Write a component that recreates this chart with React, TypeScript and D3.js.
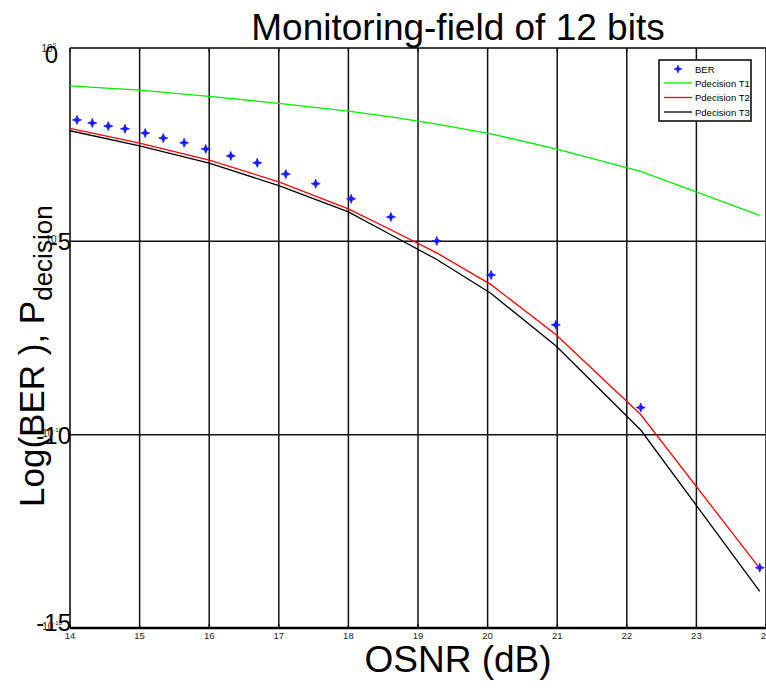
import React from "react";
import * as d3 from "d3";

const berOsnr = [14.1, 14.32, 14.55, 14.79, 15.08, 15.34, 15.64, 15.95, 16.31, 16.69, 17.1, 17.53, 18.04, 18.61, 19.27, 20.05, 20.98, 22.2, 23.91];
const berLog = [-1.86, -1.94, -2.02, -2.09, -2.2, -2.33, -2.45, -2.61, -2.79, -2.97, -3.26, -3.51, -3.9, -4.37, -4.99, -5.87, -7.16, -9.3, -13.44];

const lineOsnr = [14, 15, 16, 17, 18, 18.61, 19.27, 20.05, 20.98, 22.2, 23.91];
const pT1 = [-0.98, -1.09, -1.25, -1.43, -1.63, -1.78, -1.97, -2.22, -2.61, -3.19, -4.33];
const pT2 = [-2.08, -2.46, -2.9, -3.46, -4.16, -4.7, -5.3, -6.12, -7.41, -9.48, -13.46];
const pT3 = [-2.14, -2.53, -2.98, -3.56, -4.24, -4.83, -5.47, -6.35, -7.7, -9.88, -14.05];

const xTicks = [14, 15, 16, 17, 18, 19, 20, 21, 22, 23, 24];
const yTicks = [0, -5, -10, -15];

const seriesNames = ["BER", "Pdecision T1", "Pdecision T2", "Pdecision T3"];
const seriesColors = ["#0000ff", "#00ee00", "#ff0000", "#000000"];

const W = 766;
const H = 688;
const FONT = "'Liberation Sans', Arial, sans-serif";

function starPath(cx: number, cy: number, r: number, ri: number) {
  const pts: string[] = [];
  for (let i = 0; i < 8; i++) {
    const a = (Math.PI / 4) * i - Math.PI / 2;
    const rr = i % 2 === 0 ? r : ri;
    pts.push(`${cx + rr * Math.cos(a)},${cy + rr * Math.sin(a)}`);
  }
  return "M" + pts.join("L") + "Z";
}

export default function App() {
  const x = d3.scaleLinear().domain([14, 24]).range([70, 766]);
  const y = d3.scaleLinear().domain([0, -15]).range([48, 628]);
  const line = d3
    .line<[number, number]>()
    .x((d) => x(d[0]))
    .y((d) => y(d[1]));
  const mk = (vals: number[]) => line(lineOsnr.map((o, i) => [o, vals[i]] as [number, number])) || "";
  const lines = [pT1, pT2, pT3];

  const legX = 659;
  const legY = 60;
  const legRowY = [69, 83, 97.5, 112];

  return (
    <svg
      width={W}
      height={H}
      style={{ position: "absolute", left: 0, top: 0, background: "#fff" }}
      fontFamily={FONT}
    >
      <rect x={0} y={0} width={W} height={H} fill="#fff" />
      {/* vertical grid */}
      {xTicks.slice(1).map((t) => (
        <line key={"vx" + t} x1={x(t)} x2={x(t)} y1={y(0)} y2={y(-15)} stroke="#111" strokeWidth={1.5} />
      ))}
      {/* horizontal grid */}
      {yTicks.slice(1, 3).map((t) => (
        <line key={"hy" + t} x1={x(14)} x2={W} y1={y(t)} y2={y(t)} stroke="#111" strokeWidth={1.5} />
      ))}
      {/* frame */}
      <line x1={x(14)} x2={W} y1={y(0)} y2={y(0)} stroke="#000" strokeWidth={1.5} />
      <line x1={x(14)} x2={x(14)} y1={y(0)} y2={y(-15)} stroke="#000" strokeWidth={1.5} />
      <line x1={x(14)} x2={W} y1={y(-15)} y2={y(-15)} stroke="#000" strokeWidth={2.5} />
      {/* inner ticks */}
      {xTicks.map((t) => (
        <g key={"tk" + t}>
          <line x1={x(t)} x2={x(t)} y1={y(-15)} y2={y(-15) - 4} stroke="#000" strokeWidth={1} />
          <line x1={x(t)} x2={x(t)} y1={y(0)} y2={y(0) + 4} stroke="#000" strokeWidth={1} />
        </g>
      ))}

      {/* data lines */}
      {lines.map((vals, i) => (
        <path key={"ln" + i} d={mk(vals)} fill="none" stroke={seriesColors[i + 1]} strokeWidth={1.3} />
      ))}
      {/* BER markers */}
      {berOsnr.map((o, i) => (
        <path key={"b" + i} d={starPath(x(o), y(berLog[i]), 4.5, 1.8)} fill="#1a1aff" stroke="#1a1aff" strokeWidth={0.8} />
      ))}

      {/* x tick labels */}
      {xTicks.map((t) => (
        <text key={"xl" + t} x={x(t)} y={639} fontSize={9.5} textAnchor="middle" fill="#222">
          {t}
        </text>
      ))}
      {/* y tick labels (small 10^n and big n overlapped) */}
      {yTicks.map((t) => (
        <g key={"yl" + t}>
          <text x={t === 0 ? 56 : 62} y={y(t) + 4 + (t === 0 ? 0 : -2)} fontSize={10} textAnchor="end" fill="#222">
            10
            <tspan fontSize={6} dy={-5}>
              {t}
            </tspan>
          </text>
          <text
            x={t === 0 ? 58 : 71}
            y={y(t) + (t === -15 ? 3 : t === 0 ? 15 : 9)}
            fontSize={24}
            textAnchor="end"
            fill="#000"
          >
            {t}
          </text>
        </g>
      ))}

      {/* title */}
      <text x={458} y={40} fontSize={37} textAnchor="middle" fill="#000">
        Monitoring-field of 12 bits
      </text>
      {/* x label */}
      <text x={458} y={672} fontSize={37} textAnchor="middle" fill="#000">
        OSNR (dB)
      </text>
      {/* y label */}
      <text transform="translate(44,507) rotate(-90)" fontSize={35} fill="#000">
        Log(BER ), P
        <tspan fontSize={26} dy={8}>
          decision
        </tspan>
      </text>

      {/* legend */}
      <rect x={legX} y={legY} width={92} height={61} fill="#fff" stroke="#000" strokeWidth={1.5} />
      {seriesNames.map((n, i) => (
        <g key={"lg" + i}>
          {i === 0 ? (
            <path d={starPath(678, legRowY[i], 4, 1.6)} fill="#1a1aff" stroke="#1a1aff" strokeWidth={0.6} />
          ) : (
            <line x1={664} x2={692} y1={legRowY[i]} y2={legRowY[i]} stroke={seriesColors[i]} strokeWidth={1.3} />
          )}
          <text x={695} y={legRowY[i] + 3.5} fontSize={9.5} fill="#000">
            {n}
          </text>
        </g>
      ))}
    </svg>
  );
}
